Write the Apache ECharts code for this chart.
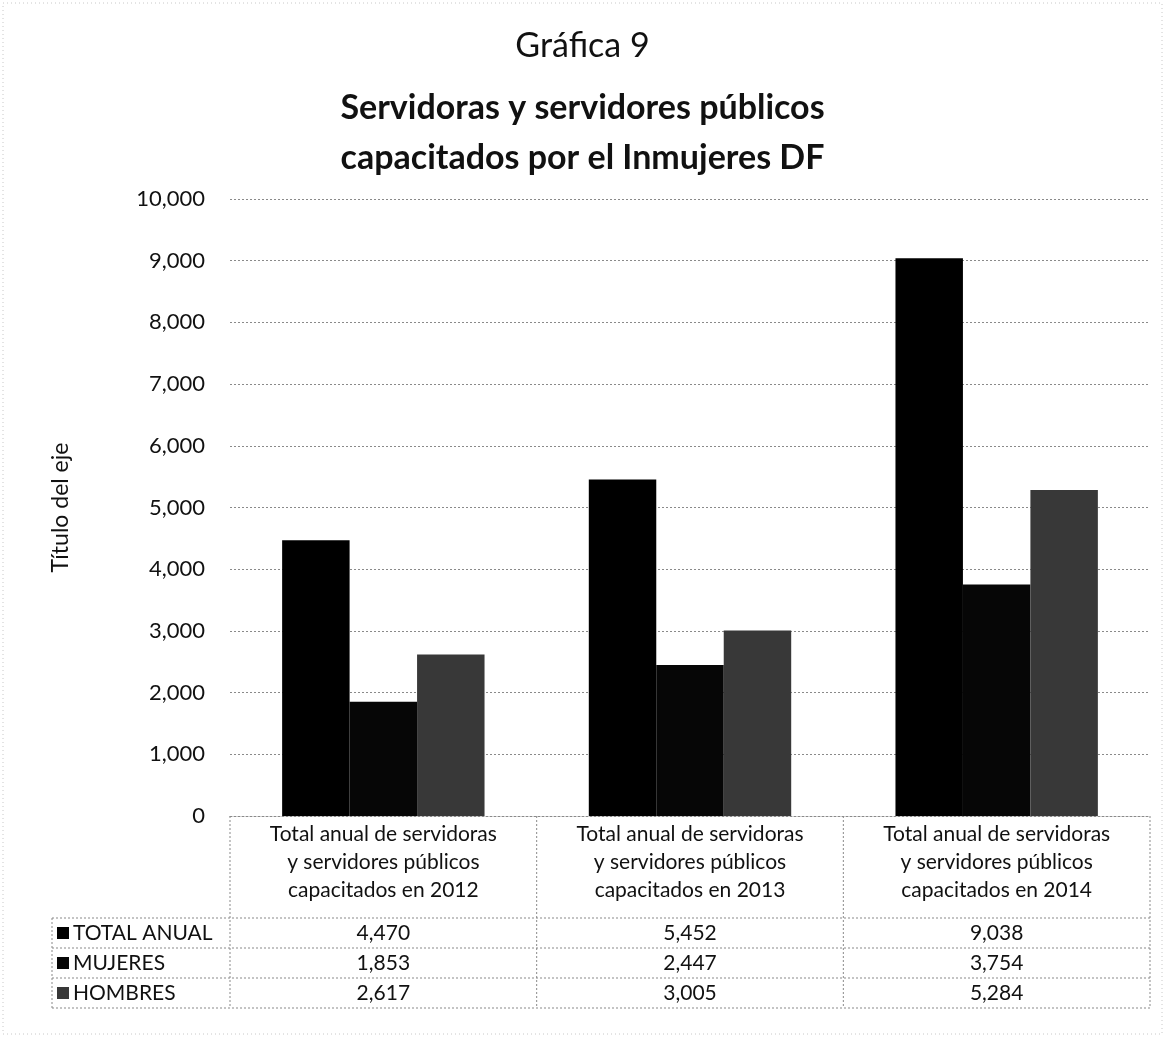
<!DOCTYPE html>
<html>
<head>
<meta charset="utf-8">
<script src="https://cdn.jsdelivr.net/npm/echarts@6/dist/echarts.min.js"></script>
<style>
html,body{margin:0;padding:0;background:#fff;}
#chart{width:1165px;height:1037px;}
</style>
</head>
<body>
<div id="chart"></div>
<script>
var categories = [
  'Total anual de servidoras\ny servidores públicos\ncapacitados en 2012',
  'Total anual de servidoras\ny servidores públicos\ncapacitados en 2013',
  'Total anual de servidoras\ny servidores públicos\ncapacitados en 2014'
];
var seriesNames = ['TOTAL ANUAL', 'MUJERES', 'HOMBRES'];
var totalAnual = [4470, 5452, 9038];
var mujeres = [1853, 2447, 3754];
var hombres = [2617, 3005, 5284];
var yTicks = {min: 0, max: 10000, interval: 1000};

var FONT = 'Lato, "Open Sans", sans-serif';
function fmt(v){ return v.toLocaleString('en-US'); }

var G = {left: 230, right: 15, top: 199, bottom: 221};
var W = 1165, H = 1037;
var plotL = G.left, plotR = W - G.right, plotB = H - G.bottom;
var rowH = 30, headerH = 102, tableL = 52;
var rowTops = [plotB + headerH, plotB + headerH + rowH, plotB + headerH + 2*rowH, plotB + headerH + 3*rowH];

var chart = echarts.init(document.getElementById('chart'));

function tableAxis(values, offset){
  return {
    type: 'category', gridIndex: 0, position: 'bottom', offset: offset,
    data: values.map(fmt),
    axisLine: {show: false}, axisTick: {show: false}, splitLine: {show: false},
    axisLabel: {margin: 0, fontFamily: FONT, fontSize: 21, color: '#111', lineHeight: rowH, verticalAlign: 'top', interval: 0}
  };
}

var dash = {stroke: '#8a8a8a', lineWidth: 1, lineDash: [2, 2]};
var graphics = [];
var colW = (plotR - plotL) / categories.length;
rowTops.forEach(function(y){
  graphics.push({type: 'line', shape: {x1: tableL, y1: y, x2: plotR, y2: y}, style: dash, silent: true});
});
graphics.push({type: 'line', shape: {x1: tableL, y1: rowTops[0], x2: tableL, y2: rowTops[3]}, style: dash, silent: true});
for (var i = 0; i <= categories.length; i++){
  var x = plotL + colW * i;
  graphics.push({type: 'line', shape: {x1: x, y1: plotB, x2: x, y2: rowTops[3]}, style: dash, silent: true});
}
graphics.push({type: 'rect', shape: {x: 3, y: 3, width: W - 6, height: H - 6}, style: {fill: null, stroke: '#c8c8c8', lineWidth: 1, lineDash: [1, 3]}, silent: true});

var option = {
  backgroundColor: '#fff',
  animation: false,
  title: [
    {text: 'Gráfica 9', left: 'center', top: 24, textStyle: {fontFamily: FONT, fontSize: 34, fontWeight: 'normal', color: '#111'}},
    {text: 'Servidoras y servidores públicos\ncapacitados por el Inmujeres DF', left: 'center', top: 78,
     textStyle: {fontFamily: FONT, fontSize: 34, fontWeight: 'bold', color: '#111', lineHeight: 50}}
  ],
  legend: {
    orient: 'vertical', left: 57, top: rowTops[0], padding: 0, itemGap: 0,
    itemWidth: 12, itemHeight: 12, icon: 'rect',
    data: seriesNames,
    textStyle: {fontFamily: FONT, fontSize: 21, color: '#111', lineHeight: rowH, padding: [0,0,0,-1]}
  },
  grid: {left: G.left, right: G.right, top: G.top, bottom: G.bottom, containLabel: false},
  xAxis: [
    {
      type: 'category', data: categories, gridIndex: 0,
      axisLine: {show: true, lineStyle: {color: '#8a8a8a', type: [2, 2], width: 1}},
      axisTick: {show: false},
      axisLabel: {margin: 4, fontFamily: FONT, fontSize: 21, color: '#111', lineHeight: 28, interval: 0, verticalAlign: 'top'}
    },
    tableAxis(totalAnual, headerH),
    tableAxis(mujeres, headerH + rowH),
    tableAxis(hombres, headerH + 2*rowH)
  ],
  yAxis: {
    type: 'value', min: yTicks.min, max: yTicks.max, interval: yTicks.interval,
    name: 'Título del eje', nameLocation: 'middle', nameGap: 158, nameRotate: 90,
    nameTextStyle: {fontFamily: FONT, fontSize: 23, color: '#111'},
    axisLine: {show: false}, axisTick: {show: false},
    axisLabel: {margin: 25, fontFamily: FONT, fontSize: 22, color: '#111', formatter: function(v){ return fmt(v); }},
    splitLine: {show: true, lineStyle: {color: '#8a8a8a', type: [2, 2], width: 1}}
  },
  series: [
    {name: seriesNames[0], type: 'bar', data: totalAnual, barGap: '0%', barCategoryGap: '34%', itemStyle: {color: '#000000'}},
    {name: seriesNames[1], type: 'bar', data: mujeres, barGap: '0%', barCategoryGap: '34%', itemStyle: {color: '#060606'}},
    {name: seriesNames[2], type: 'bar', data: hombres, barGap: '0%', barCategoryGap: '34%', itemStyle: {color: '#383838'}}
  ],
  graphic: graphics
};
chart.setOption(option);
</script>
</body>
</html>
